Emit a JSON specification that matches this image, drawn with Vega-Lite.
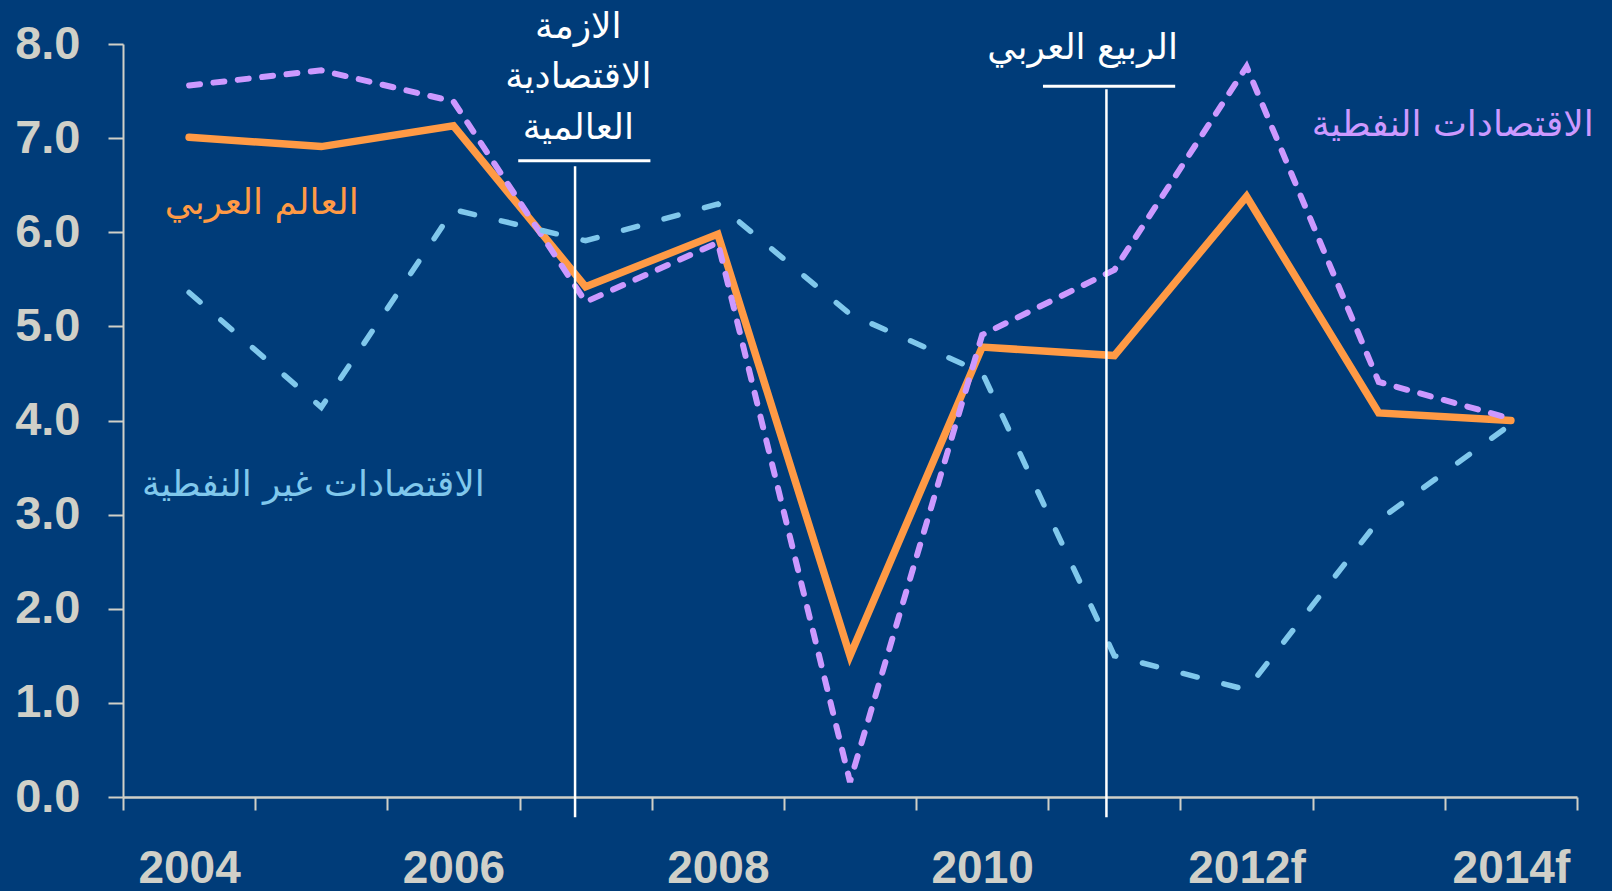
{
  "$schema": "https://vega.github.io/schema/vega-lite/v6.json",
  "width": 1454,
  "height": 753,
  "autosize": {"type": "none"},
  "padding": {"left": 123, "top": 44, "right": 35, "bottom": 94},
  "background": "#003c79",
  "config": {"view": {"stroke": null}},
  "datasets": {
    "series": [
      {"year": 2004, "s": "arab", "value": 7.01},
      {"year": 2005, "s": "arab", "value": 6.91},
      {"year": 2006, "s": "arab", "value": 7.13},
      {"year": 2007, "s": "arab", "value": 5.42},
      {"year": 2008, "s": "arab", "value": 5.98},
      {"year": 2009, "s": "arab", "value": 1.5},
      {"year": 2010, "s": "arab", "value": 4.78},
      {"year": 2011, "s": "arab", "value": 4.69},
      {"year": 2012, "s": "arab", "value": 6.38},
      {"year": 2013, "s": "arab", "value": 4.08},
      {"year": 2014, "s": "arab", "value": 4.0},
      {"year": 2004, "s": "oil", "value": 7.56},
      {"year": 2005, "s": "oil", "value": 7.72},
      {"year": 2006, "s": "oil", "value": 7.39},
      {"year": 2007, "s": "oil", "value": 5.26},
      {"year": 2008, "s": "oil", "value": 5.89},
      {"year": 2009, "s": "oil", "value": 0.16},
      {"year": 2010, "s": "oil", "value": 4.91},
      {"year": 2011, "s": "oil", "value": 5.6},
      {"year": 2012, "s": "oil", "value": 7.76},
      {"year": 2013, "s": "oil", "value": 4.41},
      {"year": 2014, "s": "oil", "value": 4.02},
      {"year": 2004, "s": "nonoil", "value": 5.36},
      {"year": 2005, "s": "nonoil", "value": 4.14},
      {"year": 2006, "s": "nonoil", "value": 6.24},
      {"year": 2007, "s": "nonoil", "value": 5.91},
      {"year": 2008, "s": "nonoil", "value": 6.3},
      {"year": 2009, "s": "nonoil", "value": 5.13},
      {"year": 2010, "s": "nonoil", "value": 4.51},
      {"year": 2011, "s": "nonoil", "value": 1.5},
      {"year": 2012, "s": "nonoil", "value": 1.14},
      {"year": 2013, "s": "nonoil", "value": 2.94},
      {"year": 2014, "s": "nonoil", "value": 3.96}
    ],
    "events": [
      {"year": 2006.92, "value": 6.7, "value2": -0.216},
      {"year": 2010.94, "value": 7.52, "value2": -0.216}
    ],
    "underlines": [
      {"year": 2006.49, "year2": 2007.49, "value": 6.76},
      {"year": 2010.46, "year2": 2011.46, "value": 7.55}
    ],
    "labels": [
      {"year": 2006.945, "value": 8.18, "g": "event", "text": "الازمة"},
      {"year": 2006.945, "value": 7.65, "g": "event", "text": "الاقتصادية"},
      {"year": 2006.945, "value": 7.11, "g": "event", "text": "العالمية"},
      {"year": 2010.76, "value": 7.96, "g": "event", "text": "الربيع العربي"},
      {"year": 2013.56, "value": 7.14, "g": "oil", "text": "الاقتصادات النفطية"},
      {"year": 2004.55, "value": 6.31, "g": "arab", "text": "العالم العربي"},
      {"year": 2004.94, "value": 3.31, "g": "nonoil", "text": "الاقتصادات غير النفطية"}
    ]
  },
  "layer": [
    {
      "data": {"name": "series"},
      "transform": [{"filter": "datum.s == 'arab'"}],
      "mark": {"type": "line", "color": "#ff9a45", "strokeWidth": 7.5, "strokeCap": "round", "strokeJoin": "miter", "strokeMiterLimit": 3},
      "encoding": {
        "x": {
          "field": "year", "type": "quantitative",
          "scale": {"domain": [2003.5, 2014.5], "nice": false, "zero": false},
          "axis": {
            "title": null, "grid": false,
            "values": [2003.5, 2004.5, 2005.5, 2006.5, 2007.5, 2008.5, 2009.5, 2010.5, 2011.5, 2012.5, 2013.5, 2014.5],
            "labelExpr": "((datum.value + 0.5) % 2 == 0 && datum.value < 2014) ? ((datum.value + 0.5) + ((datum.value + 0.5) >= 2012 ? 'f' : '')) : ''",
            "labelOffset": 66.1,
            "tickSize": 13, "tickWidth": 2, "tickColor": "#d0d0c8",
            "domainColor": "#d0d0c8", "domainWidth": 2.5,
            "labelFont": "Liberation Sans", "labelFontWeight": "bold", "labelFontSize": 46, "labelColor": "#d0d0c8",
            "labelPadding": 36, "labelOverlap": false, "labelFlush": false, "labelBound": false
          }
        },
        "y": {
          "field": "value", "type": "quantitative",
          "scale": {"domain": [0, 8], "nice": false, "zero": false},
          "axis": {
            "title": null, "grid": false,
            "values": [0, 1, 2, 3, 4, 5, 6, 7, 8],
            "format": ".1f",
            "tickSize": 15, "tickWidth": 2, "tickColor": "#d0d0c8",
            "domainColor": "#d0d0c8", "domainWidth": 2,
            "labelFont": "Liberation Sans", "labelFontWeight": "bold", "labelFontSize": 47, "labelColor": "#d0d0c8",
            "labelPadding": 28, "labelOverlap": false, "labelFlush": false, "labelBound": false
          }
        }
      }
    },
    {
      "data": {"name": "series"},
      "transform": [{"filter": "datum.s == 'oil'"}],
      "mark": {"type": "line", "color": "#cc99ff", "strokeWidth": 6, "strokeDash": [11, 13.5], "strokeCap": "round", "strokeJoin": "miter", "strokeMiterLimit": 3},
      "encoding": {
        "x": {"field": "year", "type": "quantitative", "axis": {"title": null}},
        "y": {"field": "value", "type": "quantitative", "axis": {"title": null}}
      }
    },
    {
      "data": {"name": "series"},
      "transform": [{"filter": "datum.s == 'nonoil'"}],
      "mark": {"type": "line", "color": "#80c8ec", "strokeWidth": 5.5, "strokeDash": [14.5, 27.5], "strokeCap": "round", "strokeJoin": "miter", "strokeMiterLimit": 3},
      "encoding": {
        "x": {"field": "year", "type": "quantitative", "axis": {"title": null}},
        "y": {"field": "value", "type": "quantitative", "axis": {"title": null}}
      }
    },
    {
      "data": {"name": "events"},
      "mark": {"type": "rule", "color": "#ffffff", "strokeWidth": 2.5},
      "encoding": {
        "x": {"field": "year", "type": "quantitative", "axis": {"title": null}},
        "y": {"field": "value", "type": "quantitative", "axis": {"title": null}},
        "y2": {"field": "value2"}
      }
    },
    {
      "data": {"name": "underlines"},
      "mark": {"type": "rule", "color": "#ffffff", "strokeWidth": 3},
      "encoding": {
        "x": {"field": "year", "type": "quantitative", "axis": {"title": null}},
        "x2": {"field": "year2"},
        "y": {"field": "value", "type": "quantitative", "axis": {"title": null}}
      }
    },
    {
      "data": {"name": "labels"},
      "mark": {"type": "text", "font": "DejaVu Sans", "fontSize": 36, "align": "center", "baseline": "middle"},
      "encoding": {
        "x": {"field": "year", "type": "quantitative", "axis": {"title": null}},
        "y": {"field": "value", "type": "quantitative", "axis": {"title": null}},
        "text": {"field": "text"},
        "color": {
          "field": "g", "type": "nominal", "legend": null,
          "scale": {"domain": ["event", "oil", "arab", "nonoil"], "range": ["#ffffff", "#cc99ff", "#ff9a45", "#80c8ec"]}
        }
      }
    }
  ]
}
